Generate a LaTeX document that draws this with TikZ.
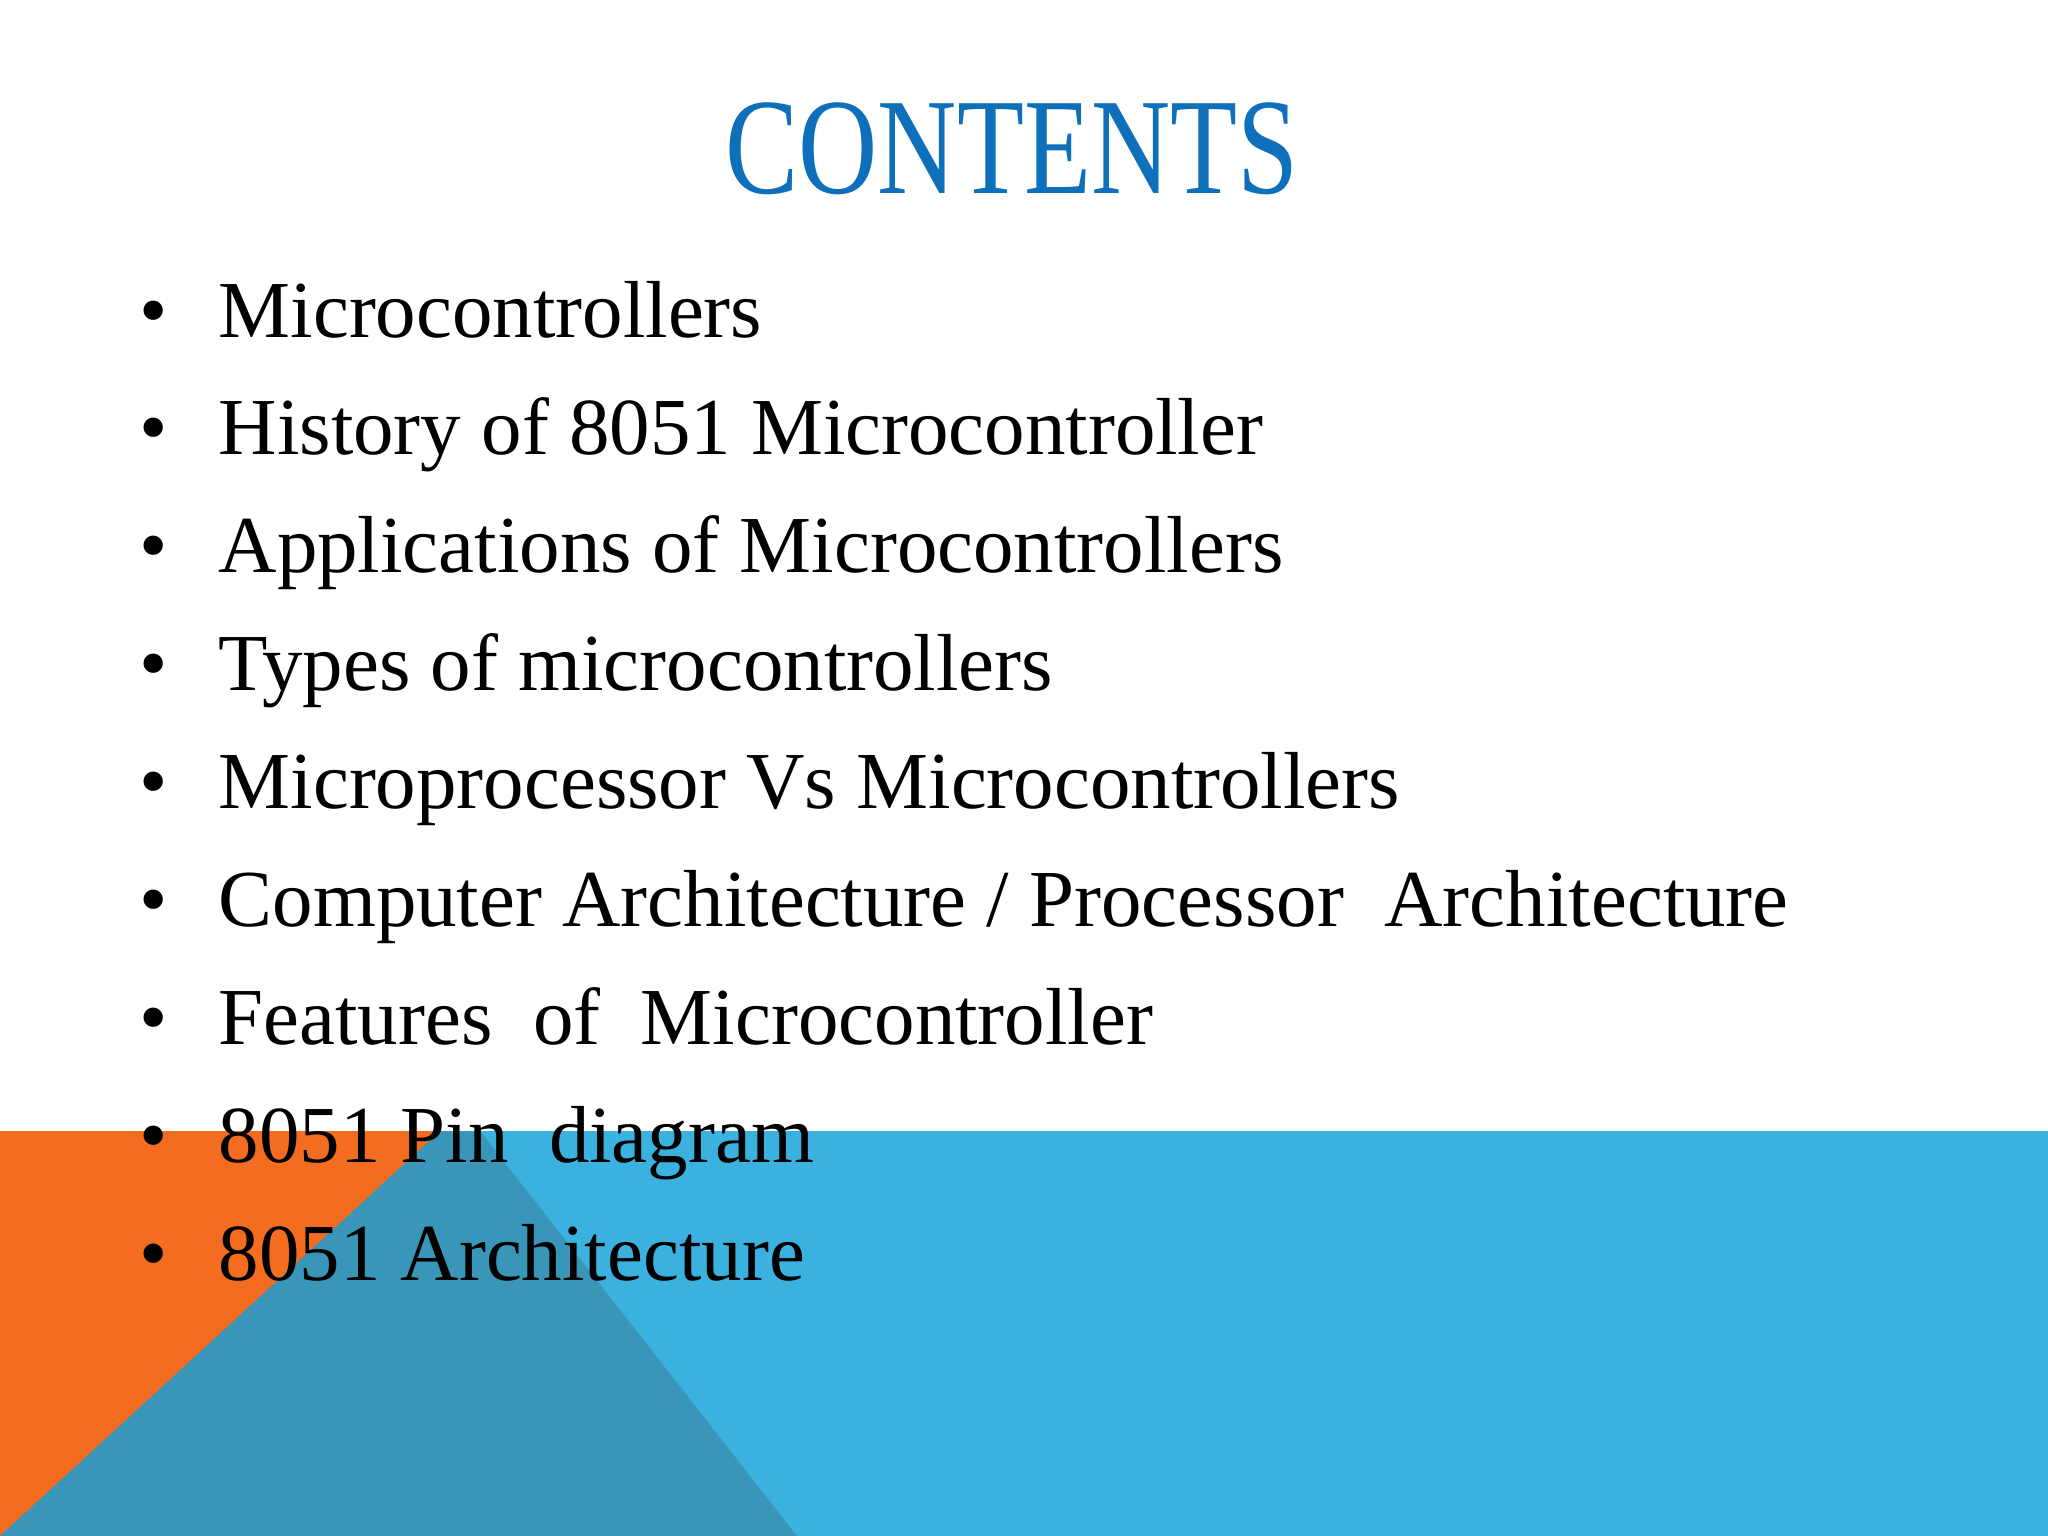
\documentclass[tikz,border=0pt]{standalone}
\usepackage{fontspec}
\setmainfont{Liberation Serif}
\definecolor{org}{HTML}{F46C20}
\definecolor{lblue}{HTML}{3BB1E0}
\definecolor{teal}{HTML}{3A96B8}
\definecolor{ttl}{HTML}{0E6FBA}
\begin{document}
\begin{tikzpicture}[x=0.01cm,y=-0.01cm,
  item/.style={anchor=base west,inner sep=0,font=\fontsize{23}{27}\selectfont},
  bul/.style={anchor=base,inner sep=0,font=\fontsize{23}{27}\selectfont}]
\useasboundingbox (0,0) rectangle (2048,1536);
\fill[white] (0,0) rectangle (2048,1536);
\fill[org] (0,1131) rectangle (470,1536);
\fill[lblue] (470,1131) -- (2048,1131) -- (2048,1536) -- (797,1536) -- cycle;
\fill[teal] (0,1536) -- (440,1131) -- (480,1131) -- (797,1536) -- cycle;
\node[inner sep=0,anchor=base,text=ttl,font=\fontsize{39}{45}\selectfont,xscale=0.8] (title) at (1012,193) {CONTENTS};
\foreach \t [count=\i from 0] in {Microcontrollers,History of 8051 Microcontroller,Applications of Microcontrollers,Types of microcontrollers,Microprocessor Vs Microcontrollers,Computer Architecture / Processor\ \ Architecture,Features\ \ of\ \ Microcontroller,8051 Pin\ \ diagram,8051 Architecture}{
  \node[bul] (b\i) at (154,337+117.9*\i) {\textbullet};
  \node[item] (t\i) at (218,337+117.9*\i) {\t};
}
\end{tikzpicture}
\end{document}
